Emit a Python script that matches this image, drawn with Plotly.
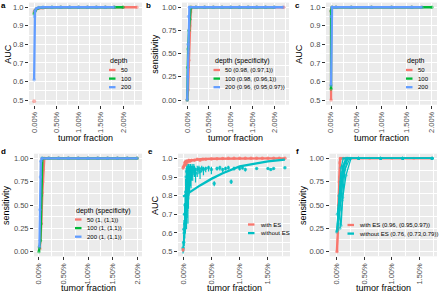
import plotly.graph_objects as go

RED, GREEN, BLUE, CYAN = '#F8766D', '#00BA38', '#619CFF', '#00BFC4'

# ---------------- data ----------------
# panel a : AUC vs tumor fraction by depth
a_tf_50 = [0.0, 0.0002, 0.0005, 0.001, 0.002, 0.004, 0.006, 0.008, 0.01, 0.012, 0.014, 0.016, 0.018, 0.02, 0.0231]
a_auc_50 = [0.975, 0.984, 0.99, 0.994, 0.997, 0.999, 1.0, 1.0, 1.0, 1.0, 1.0, 1.0, 1.0, 1.0, 1.0]
a_tf_100 = [0.0, 0.0002, 0.0005, 0.001, 0.002, 0.004, 0.006, 0.008, 0.01, 0.012, 0.014, 0.016, 0.018, 0.02]
a_auc_100 = [0.965, 0.98, 0.99, 0.996, 0.999, 1.0, 1.0, 1.0, 1.0, 1.0, 1.0, 1.0, 1.0, 1.0]
a_tf_200 = [0.0, 0.0001, 0.0002, 0.0005, 0.001, 0.002, 0.004, 0.006, 0.008, 0.01, 0.012, 0.014, 0.016, 0.018]
a_auc_200 = [0.61, 0.95, 0.98, 0.993, 0.998, 1.0, 1.0, 1.0, 1.0, 1.0, 1.0, 1.0, 1.0, 1.0]
a_tf_low = [0.0]
a_auc_low = [0.493]

# panel b : sensitivity by depth
b_tf_50 = [0.0, 0.0002, 0.0004, 0.0006, 0.0008, 0.001, 0.002, 0.004, 0.006, 0.008, 0.01, 0.012, 0.014, 0.016, 0.018, 0.02, 0.0222]
b_sens_50 = [0.0, 0.11, 0.43, 0.8, 0.95, 1.0, 1.0, 1.0, 1.0, 1.0, 1.0, 1.0, 1.0, 1.0, 1.0, 1.0, 1.0]
b_tf_100 = [0.0, 0.0001, 0.0002, 0.0004, 0.0006, 0.0008, 0.002, 0.004, 0.006, 0.008, 0.01, 0.012, 0.014, 0.016, 0.018, 0.02]
b_sens_100 = [0.0, 0.35, 0.55, 0.75, 0.87, 1.0, 1.0, 1.0, 1.0, 1.0, 1.0, 1.0, 1.0, 1.0, 1.0, 1.0]
b_tf_200 = [0.0, 0.0001, 0.0002, 0.0003, 0.0005, 0.002, 0.004, 0.006, 0.008, 0.01, 0.012, 0.014, 0.016, 0.018, 0.02, 0.022]
b_sens_200 = [0.0, 0.25, 0.6, 0.9, 1.0, 1.0, 1.0, 1.0, 1.0, 1.0, 1.0, 1.0, 1.0, 1.0, 1.0, 1.0]

# panel c : AUC by depth
c_tf_50 = [0.0, 0.0, 0.0002, 0.001, 0.004, 0.008, 0.012, 0.016, 0.018]
c_auc_50 = [0.5, 0.98, 1.0, 1.0, 1.0, 1.0, 1.0, 1.0, 1.0]
c_tf_100 = [0.0, 0.0, 0.0002, 0.001, 0.004, 0.008, 0.012, 0.016, 0.02]
c_auc_100 = [0.56, 0.98, 1.0, 1.0, 1.0, 1.0, 1.0, 1.0, 1.0]
c_tf_200 = [0.0, 0.00005, 0.0002, 0.001, 0.004, 0.008, 0.012, 0.016, 0.018]
c_auc_200 = [0.58, 0.95, 1.0, 1.0, 1.0, 1.0, 1.0, 1.0, 1.0]

# panel d : sensitivity by depth
d_tf_50 = [0.0002, 0.0005, 0.0007, 0.0008, 0.0009, 0.0011, 0.002, 0.004, 0.006, 0.008, 0.01, 0.012, 0.014, 0.016, 0.018, 0.02]
d_sens_50 = [0.03, 0.3, 0.63, 0.75, 0.88, 1.0, 1.0, 1.0, 1.0, 1.0, 1.0, 1.0, 1.0, 1.0, 1.0, 1.0]
d_tf_100 = [0.0, 0.0001, 0.0003, 0.0004, 0.0005, 0.0007, 0.002, 0.004, 0.006, 0.008, 0.01, 0.012, 0.014, 0.016, 0.018, 0.02]
d_sens_100 = [0.0, 0.05, 0.12, 0.3, 0.6, 1.0, 1.0, 1.0, 1.0, 1.0, 1.0, 1.0, 1.0, 1.0, 1.0, 1.0]
d_tf_200 = [0.0001, 0.0002, 0.0003, 0.0004, 0.0006, 0.002, 0.004, 0.006, 0.008, 0.01, 0.012, 0.014, 0.016, 0.018, 0.02]
d_sens_200 = [0.05, 0.45, 0.8, 0.97, 1.0, 1.0, 1.0, 1.0, 1.0, 1.0, 1.0, 1.0, 1.0, 1.0, 1.0]

# panel e : AUC with / without ES
e_fit_tf = [0.0, 0.0005, 0.001, 0.002, 0.003, 0.005, 0.007, 0.01, 0.013, 0.015, 0.018]
e_fit_with = [0.95, 0.98, 0.988, 0.994, 0.996, 0.998, 0.999, 1.0, 1.0, 1.0, 1.0]
e_fit_without = [0.795, 0.805, 0.815, 0.835, 0.855, 0.89, 0.92, 0.957, 0.975, 0.984, 0.993]
e_tf_with = [0.0, 0.0, 0.0002, 0.0003, 0.0004, 0.0005, 0.0006, 0.0008, 0.001, 0.0012, 0.0015, 0.002,
             0.0025, 0.003, 0.0035, 0.004, 0.005, 0.006, 0.007, 0.008, 0.009, 0.01, 0.011, 0.012,
             0.013, 0.014, 0.015, 0.016, 0.017, 0.018]
e_auc_with = [0.51, 0.95, 0.96, 0.975, 0.98, 0.97, 0.985, 0.98, 0.99, 0.985, 0.99, 0.99,
              0.995, 0.99, 0.995, 0.995, 0.997, 0.998, 0.999, 1.0, 1.0, 1.0, 1.0, 1.0,
              1.0, 1.0, 1.0, 1.0, 1.0, 1.0]
e_err_with = [0.01, 0.01, 0.01, 0.01, 0.008, 0.01, 0.008, 0.008, 0.006, 0.006, 0.005, 0.005,
              0.004, 0.004, 0.003, 0.003, 0.002, 0.002, 0.002, 0.001, 0.001, 0.001, 0.001, 0.001,
              0.001, 0.001, 0.001, 0.001, 0.001, 0.001]
e_tf_without = [0.0, 0.0001, 0.00015, 0.0002, 0.00025, 0.0003, 0.00035, 0.0004, 0.00045, 0.0005,
                0.00055, 0.0006, 0.00065, 0.0007, 0.00075, 0.0008, 0.00085, 0.0009, 0.00095, 0.001,
                0.00105, 0.0011, 0.00115, 0.0012, 0.0013, 0.0014, 0.0015, 0.0016, 0.0017, 0.0019,
                0.002, 0.0022, 0.0025, 0.0028, 0.003, 0.0033, 0.0036, 0.004, 0.0045, 0.005,
                0.0055, 0.006, 0.0065, 0.007, 0.0075, 0.008, 0.0085, 0.009, 0.01, 0.0105,
                0.011, 0.013, 0.015, 0.0155, 0.016, 0.018]
e_auc_without = [0.52, 0.55, 0.62, 0.6, 0.7, 0.65, 0.75, 0.7, 0.82, 0.75,
                 0.9, 0.72, 0.93, 0.8, 0.88, 0.85, 0.95, 0.9, 0.93, 0.88,
                 0.95, 0.93, 0.9, 0.92, 0.95, 0.9, 0.94, 0.95, 0.93, 0.95,
                 0.94, 0.92, 0.94, 0.945, 0.93, 0.945, 0.94, 0.945, 0.95, 0.94,
                 0.865, 0.945, 0.95, 0.94, 0.945, 0.95, 0.875, 0.945, 0.945, 0.95,
                 0.94, 0.945, 0.945, 0.94, 0.945, 0.95]
e_err_up_without = [0.03, 0.04, 0.05, 0.05, 0.06, 0.05, 0.06, 0.06, 0.07, 0.06,
                    0.05, 0.06, 0.04, 0.06, 0.06, 0.06, 0.02, 0.05, 0.04, 0.05,
                    0.02, 0.03, 0.04, 0.03, 0.02, 0.04, 0.02, 0.02, 0.03, 0.02,
                    0.02, 0.03, 0.02, 0.015, 0.02, 0.015, 0.015, 0.01, 0.01, 0.015,
                    0.012, 0.01, 0.01, 0.01, 0.01, 0.01, 0.012, 0.01, 0.01, 0.01,
                    0.01, 0.005, 0.005, 0.005, 0.005, 0.005]
e_err_down_without = [0.03, 0.05, 0.06, 0.07, 0.1, 0.08, 0.12, 0.1, 0.15, 0.12,
                      0.2, 0.1, 0.25, 0.12, 0.15, 0.1, 0.3, 0.12, 0.2, 0.1,
                      0.15, 0.1, 0.08, 0.07, 0.1, 0.06, 0.06, 0.05, 0.05, 0.04,
                      0.04, 0.05, 0.04, 0.03, 0.04, 0.02, 0.03, 0.02, 0.02, 0.025,
                      0.015, 0.01, 0.015, 0.015, 0.01, 0.01, 0.012, 0.01, 0.01, 0.01,
                      0.01, 0.005, 0.005, 0.005, 0.005, 0.005]

# panel f : sensitivity with / without ES (replicate curves)
f_tf_with = [[0.0001, 0.0002, 0.0003, 0.0004, 0.0005, 0.0006, 0.001, 0.004, 0.008, 0.012, 0.0173],
             [0.0, 0.0002, 0.0003, 0.0005, 0.0006, 0.0008, 0.002, 0.006, 0.01, 0.014, 0.0173]]
f_sens_with = [[0.0, 0.25, 0.46, 0.75, 0.95, 1.0, 1.0, 1.0, 1.0, 1.0, 1.0],
               [0.0, 0.2, 0.5, 0.8, 0.97, 1.0, 1.0, 1.0, 1.0, 1.0, 1.0]]
f_tf_without = [[0.0, 0.0004, 0.0008, 0.0012, 0.004, 0.008, 0.012, 0.0173],
                [0.0, 0.0005, 0.001, 0.0016, 0.004, 0.008, 0.012, 0.0173],
                [0.0002, 0.0006, 0.0012, 0.002, 0.004, 0.008, 0.012, 0.0173],
                [0.0006, 0.001, 0.0015, 0.0024, 0.004, 0.008, 0.012, 0.0173],
                [0.0003, 0.0008, 0.0014, 0.0018, 0.004, 0.008, 0.012, 0.0173],
                [0.0001, 0.0007, 0.0011, 0.0021, 0.004, 0.008, 0.012, 0.0173],
                [0.0004, 0.0009, 0.0013, 0.0019, 0.004, 0.008, 0.012, 0.0173],
                [0.0008, 0.0011, 0.0017, 0.0026, 0.004, 0.008, 0.012, 0.0173]]
f_sens_without = [[0.21, 0.6, 0.9, 1.0, 1.0, 1.0, 1.0, 1.0],
                  [0.22, 0.5, 0.85, 1.0, 1.0, 1.0, 1.0, 1.0],
                  [0.23, 0.45, 0.8, 1.0, 1.0, 1.0, 1.0, 1.0],
                  [0.25, 0.55, 0.88, 1.0, 1.0, 1.0, 1.0, 1.0],
                  [0.3, 0.7, 0.95, 1.0, 1.0, 1.0, 1.0, 1.0],
                  [0.4, 0.75, 0.92, 1.0, 1.0, 1.0, 1.0, 1.0],
                  [0.35, 0.62, 0.9, 1.0, 1.0, 1.0, 1.0, 1.0],
                  [0.28, 0.58, 0.82, 1.0, 1.0, 1.0, 1.0, 1.0]]

x_ticks_2pct = [0.0, 0.005, 0.01, 0.015, 0.02]
x_ticks_15pct = [0.0, 0.005, 0.01, 0.015]
auc_ticks = [0.5, 0.6, 0.7, 0.8, 0.9, 1.0]
sens_ticks = [0.0, 0.25, 0.5, 0.75, 1.0]

legend_a = ('depth', ['50', '100', '200'], [RED, GREEN, BLUE])
legend_b = ('depth (specificity)', ['50 (0.98, (0.97,1))', '100 (0.98, (0.96,1))', '200 (0.96, (0.95,0.97))'], [RED, GREEN, BLUE])
legend_c = ('depth', ['50', '100', '200'], [RED, GREEN, BLUE])
legend_d = ('depth (specificity)', ['50 (1, (1,1))', '100 (1, (1,1))', '200 (1, (1,1))'], [RED, GREEN, BLUE])
legend_e = (None, ['with ES', 'without ES'], [RED, CYAN])
legend_f = (None, ['with ES (0.96, (0.95,0.97))', 'without ES (0.76, (0.73,0.79))'], [RED, CYAN])

# ---------------- layout helpers ----------------
W, H = 440, 293
FONT = 'Liberation Sans, Arial, Helvetica, sans-serif'


def px_x(p):
    return p / W


def px_y(p):
    return 1 - p / H


TOP = (2.6, 104.7)
BOT = (153.7, 256.3)
panels = [
    dict(L='a', xp=(29, 142), yp=TOP, xr=[-0.00115, 0.02425], yr=[0.475, 1.025], xt=x_ticks_2pct,
         yk='auc', yt='AUC', leg=legend_a, lx=108, ly=61, ytx=8),
    dict(L='b', xp=(182, 289), yp=TOP, xr=[-0.0012, 0.0234], yr=[-0.05, 1.05], xt=x_ticks_2pct,
         yk='sens', yt='sensitivity', leg=legend_b, lx=212.5, ly=61, ytx=155),
    dict(L='c', xp=(326, 437), yp=TOP, xr=[-0.001, 0.021], yr=[0.475, 1.025], xt=x_ticks_2pct,
         yk='auc', yt='AUC', leg=legend_c, lx=405, ly=61, ytx=299),
    dict(L='d', xp=(34, 142), yp=BOT, xr=[-0.001, 0.021], yr=[-0.05, 1.05], xt=x_ticks_2pct,
         yk='sens', yt='sensitivity', leg=legend_d, lx=74, ly=210.5, ytx=6),
    dict(L='e', xp=(178, 290), yp=BOT, xr=[-0.0009, 0.0189], yr=[0.475, 1.025], xt=x_ticks_15pct,
         yk='auc', yt='AUC', leg=legend_e, lx=247, ly=215.5, ytx=155),
    dict(L='f', xp=(329.5, 437), yp=BOT, xr=[-0.0013, 0.0182], yr=[-0.05, 1.05], xt=x_ticks_15pct,
         yk='sens', yt='sensitivity', leg=legend_f, lx=346.5, ly=216, ytx=303),
]

fig = go.Figure()


def ax(i):
    return ('x' if i == 0 else f'x{i+1}'), ('y' if i == 0 else f'y{i+1}')


def add_line(i, xs, ys, color, width=2.3, msize=3.5, mode='lines+markers'):
    xa, ya = ax(i)
    fig.add_trace(go.Scatter(x=xs, y=ys, mode=mode, xaxis=xa, yaxis=ya, showlegend=False,
                             line=dict(color=color, width=width),
                             marker=dict(color=color, size=msize, opacity=0.55)))


# panel a
add_line(0, a_tf_50, a_auc_50, RED)
add_line(0, a_tf_100, a_auc_100, GREEN)
add_line(0, a_tf_200, a_auc_200, BLUE)
add_line(0, a_tf_low, a_auc_low, RED, mode='markers', msize=4)
# panel b
add_line(1, b_tf_50, b_sens_50, RED)
add_line(1, b_tf_100, b_sens_100, GREEN)
add_line(1, b_tf_200, b_sens_200, BLUE)
# panel c
add_line(2, c_tf_50, c_auc_50, RED)
add_line(2, c_tf_100, c_auc_100, GREEN)
add_line(2, c_tf_200, c_auc_200, BLUE)
# panel d
add_line(3, d_tf_50, d_sens_50, RED)
add_line(3, d_tf_100, d_sens_100, GREEN)
add_line(3, d_tf_200, d_sens_200, BLUE)
# panel e
fig.add_trace(go.Scatter(x=e_tf_without, y=e_auc_without, mode='markers', xaxis='x5', yaxis='y5',
                         showlegend=False, marker=dict(color=CYAN, size=3.5, opacity=0.8),
                         error_y=dict(type='data', symmetric=False, array=e_err_up_without,
                                      arrayminus=e_err_down_without, color=CYAN, thickness=1.2, width=0)))
fig.add_trace(go.Scatter(x=e_tf_with, y=e_auc_with, mode='markers', xaxis='x5', yaxis='y5',
                         showlegend=False, marker=dict(color=RED, size=3.5, opacity=0.8),
                         error_y=dict(type='data', array=e_err_with, color=RED, thickness=1.2, width=0)))
add_line(4, e_fit_tf, e_fit_with, RED, width=2.3, mode='lines')
add_line(4, e_fit_tf, e_fit_without, CYAN, width=2.3, mode='lines')
# panel f
for xs, ys in zip(f_tf_with, f_sens_with):
    add_line(5, xs, ys, RED, width=2.0, msize=3)
for xs, ys in zip(f_tf_without, f_sens_without):
    add_line(5, xs, ys, CYAN, width=1.3, msize=3)

shapes, annos = [], []
grid = dict(showgrid=True, gridcolor='white', gridwidth=1.1, zeroline=False, showline=False,
            ticks='outside', ticklen=3, tickwidth=1, tickcolor='#333333',
            tickfont=dict(size=7.5, color='#4D4D4D', family=FONT))

for i, p in enumerate(panels):
    n = '' if i == 0 else str(i + 1)
    xa, ya = ax(i)
    fig.layout['xaxis' + n] = dict(
        domain=[px_x(p['xp'][0]), px_x(p['xp'][1])], range=p['xr'], anchor=ya,
        tickmode='array', tickvals=p['xt'], tickformat='.2%', tickangle=-90,
        minor=dict(tickmode='array', tickvals=[v + 0.0025 for v in p['xt']], showgrid=True,
                   gridcolor='white', gridwidth=0.5, ticks=''),
        **grid)
    if p['yk'] == 'auc':
        yt, fmt, mv = auc_ticks, '.1f', 0.05
    else:
        yt, fmt, mv = sens_ticks, '.2f', 0.125
    fig.layout['yaxis' + n] = dict(
        domain=[px_y(p['yp'][1]), px_y(p['yp'][0])], range=p['yr'], anchor=xa,
        tickmode='array', tickvals=yt, tickformat=fmt,
        minor=dict(tickmode='array', tickvals=[v + mv for v in yt], showgrid=True,
                   gridcolor='white', gridwidth=0.5, ticks=''),
        **grid)
    lx0 = {'a': 3, 'b': 148, 'c': 297, 'd': 3, 'e': 150, 'f': 297}[p['L']]
    ly0 = 5 if p['yp'] == TOP else 151
    annos.append(dict(text='<b>%s</b>' % p['L'], x=px_x(lx0), y=px_y(ly0), xref='paper', yref='paper',
                      showarrow=False, xanchor='center', yanchor='middle',
                      font=dict(size=8, family=FONT, color='black')))
    cx = (p['xp'][0] + p['xp'][1]) / 2
    ty = 138 if p['yp'] == TOP else 288.3
    annos.append(dict(text='tumor fraction', x=px_x(cx), y=px_y(ty), xref='paper', yref='paper',
                      showarrow=False, xanchor='center', yanchor='middle',
                      font=dict(size=9, family=FONT, color='black')))
    cy = (p['yp'][0] + p['yp'][1]) / 2
    annos.append(dict(text=p['yt'], x=px_x(p['ytx']), y=px_y(cy), xref='paper', yref='paper',
                      showarrow=False, textangle=-90, xanchor='center', yanchor='middle',
                      font=dict(size=9, family=FONT, color='black')))
    title, labels, colors = p['leg']
    lx, ly = p['lx'], p['ly']
    if title:
        annos.append(dict(text=title, x=px_x(lx), y=px_y(ly), xref='paper', yref='paper',
                          showarrow=False, xanchor='left', yanchor='middle',
                          font=dict(size=7, family=FONT, color='black')))
    for k, (lab, col) in enumerate(zip(labels, colors)):
        yy = ly + 9 + 8.6 * k
        shapes.append(dict(type='line', xref='paper', yref='paper', x0=px_x(lx + 1), x1=px_x(lx + 7.5),
                           y0=px_y(yy), y1=px_y(yy), line=dict(color=col, width=2.3)))
        annos.append(dict(text=lab, x=px_x(lx + 10.5), y=px_y(yy), xref='paper', yref='paper',
                          showarrow=False, xanchor='left', yanchor='middle',
                          font=dict(size=6, family=FONT, color='black')))

fig.update_layout(width=W, height=H, margin=dict(l=0, r=0, t=0, b=0),
                  paper_bgcolor='white', plot_bgcolor='#EBEBEB',
                  font=dict(family=FONT), showlegend=False,
                  shapes=shapes, annotations=annos)

fig.write_html('out.html', config={'displayModeBar': False},
               post_script="document.body.style.margin='0';document.body.style.overflow='hidden';")
